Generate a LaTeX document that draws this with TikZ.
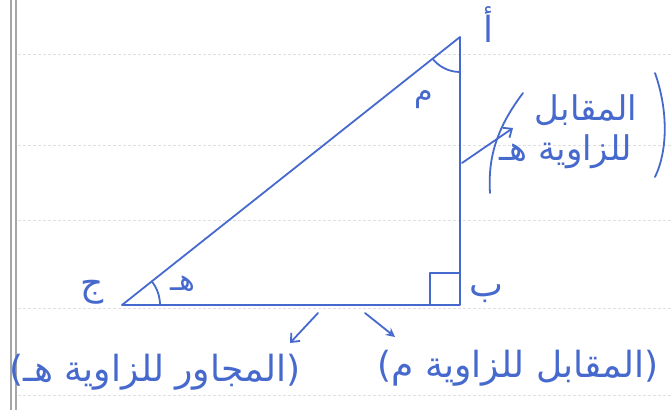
\documentclass[tikz,border=0pt]{standalone}
\usepackage{fontspec}
\newfontfamily\arabicfont[Script=Arabic]{DejaVu Sans}
\TeXXeTstate=1
\usetikzlibrary{arrows.meta}
\definecolor{inkc}{RGB}{70,105,205}
\begin{document}
\begin{tikzpicture}[x=1pt,y=1pt,
  ink/.style={draw=inkc, line width=1.8pt, line cap=round, line join=round},
  big/.style={text=inkc, font=\arabicfont\fontsize{36}{42}\selectfont, inner sep=0pt},
  mid/.style={text=inkc, font=\arabicfont\fontsize{34}{40}\selectfont, inner sep=0pt},
  vtx/.style={text=inkc, font=\arabicfont\fontsize{36}{40}\selectfont, inner sep=0pt},
  ang/.style={text=inkc, font=\arabicfont\fontsize{30}{36}\selectfont, inner sep=0pt},
  rule/.style={draw=gray!25, line width=0.8pt, dash pattern=on 3pt off 2pt},
  barb/.style={-{Straight Barb[length=7pt,width=12pt]}},
  openhead/.style={-{Stealth[open,length=9pt,width=9pt]}}]
\useasboundingbox (0,0) rectangle (672,410);
\fill[white] (0,0) rectangle (672,410);
% faint ruled lines and margin
\foreach \yy in {356,265,190,102,15} \draw[rule] (18,\yy) -- (672,\yy);
\draw[gray!70, line width=1.5pt] (11,0) -- (11,410);
\draw[gray!70, line width=1.5pt] (16,0) -- (16,410);
% vertices
\coordinate (A) at (460,373);
\coordinate (B) at (460,105);
\coordinate (C) at (122,105);
\draw[ink] (A) -- (B) -- (C) -- cycle;
% right angle and angle arcs
\draw[ink] (430,105) -- (430,137) -- (B |- 0,137);
\draw[ink] (C) ++(38,0) arc[start angle=0, end angle=38.4, radius=38];
\draw[ink] (A) ++(218.4:35) arc[start angle=218.4, end angle=270, radius=35];
% vertex labels
\node[vtx] (lA) at (488,385) {\beginR أ\endR};
\node[vtx] (lB) at (486,116) {\beginR ب\endR};
\node[vtx] (lC) at (92,118) {\beginR ج\endR};
\node[ang] (angC) at (183,126) {\beginR هـ\endR};
\node[ang] (angA) at (424,310) {\beginR م\endR};
% right label
\node[mid] (r1) at (586,300) {\beginR المقابل\endR};
\node[mid] (r2) at (566,258) {\beginR للزاوية هـ\endR};
\draw[ink] (655,337) .. controls (668,300) and (668,260) .. (655,233);
\draw[ink] (523,317) .. controls (495,280) and (488,250) .. (490,217);
\coordinate (sAB) at (462,247);
\coordinate (tR) at (513,282);
\draw[ink, barb] (sAB) -- (tR);
% bottom labels
\node[big] (bl) at (155,38) {\beginR(المجاور للزاوية هـ)\endR};
\node[big] (br) at (518,42) {\beginR(المقابل للزاوية م)\endR};
\coordinate (s1) at (318,97);
\coordinate (t1) at (290,67);
\draw[ink, barb] (s1) -- (t1);
\coordinate (s2) at (365,97);
\coordinate (t2) at (395,73);
\draw[ink, openhead] (s2) -- (t2);
\end{tikzpicture}
\end{document}
